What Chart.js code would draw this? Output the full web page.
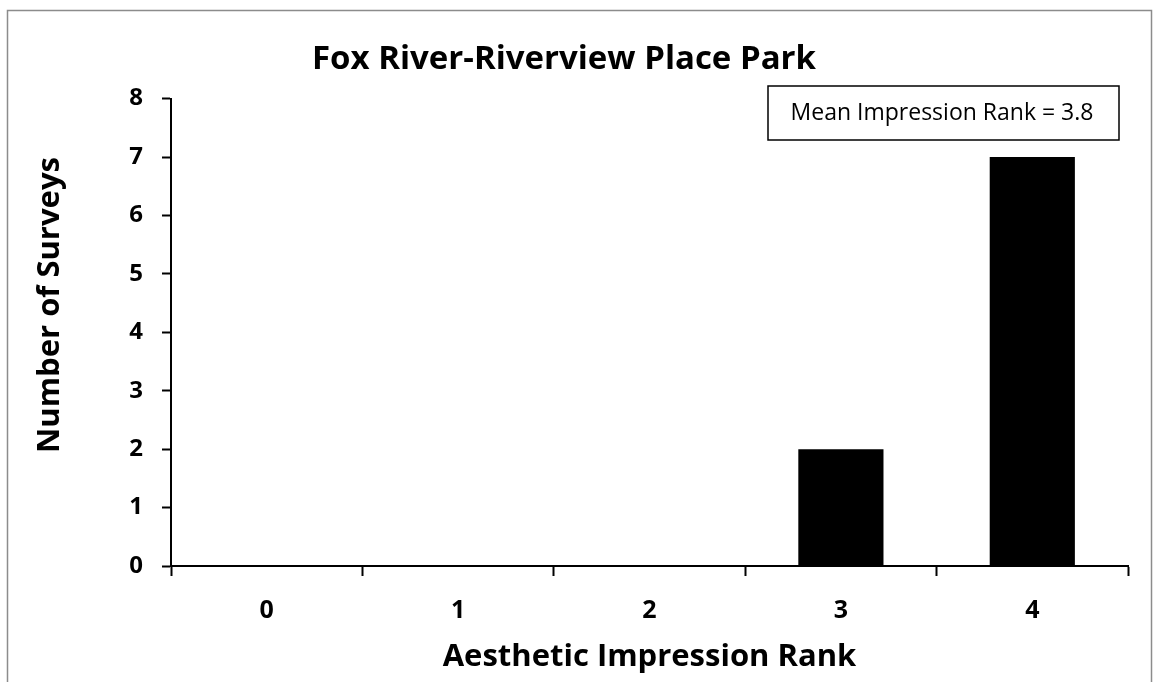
<!DOCTYPE html>
<html>
<head>
<meta charset="utf-8">
<script src="https://cdn.jsdelivr.net/npm/chart.js"></script>
<style>
  html, body { margin: 0; padding: 0; background: #fff; }
  #wrap { width: 1154px; height: 682px; }
</style>
</head>
<body>
<div id="wrap"><canvas id="chart" width="1154" height="682"></canvas></div>
<script>
const ranks = ['0', '1', '2', '3', '4'];
const surveys = [0, 0, 0, 2, 7];
const yMin = 0, yMax = 8;
const meanRank = 3.8;
const titleText = 'Fox River-Riverview Place Park';
const xTitle = 'Aesthetic Impression Rank';
const yTitle = 'Number of Surveys';
const fontFam = "'Open Sans', 'DejaVu Sans', sans-serif";

// page frame, y title (sits a bit above the axis centre) and mean box
const extras = {
  id: 'extras',
  beforeDraw(chart){
    const c = chart.ctx;
    c.save();
    c.fillStyle = '#fff';
    c.fillRect(0, 0, chart.width, chart.height);
    c.strokeStyle = '#8c8c8c';
    c.lineWidth = 1.5;
    c.strokeRect(7.5, 10.5, 1144, 700);
    c.restore();
  },
  afterDraw(chart){
    const c = chart.ctx;
    c.save();
    c.translate(50, 305);
    c.rotate(-Math.PI / 2);
    c.fillStyle = '#000';
    c.font = 'bold 31px ' + fontFam;
    c.textAlign = 'center';
    c.textBaseline = 'middle';
    c.fillText(yTitle, 0, 0);
    c.restore();

    c.save();
    c.strokeStyle = '#000';
    c.lineWidth = 1.5;
    c.strokeRect(768, 86, 351, 54);
    c.fillStyle = '#000';
    c.font = '23px ' + fontFam;
    c.textAlign = 'center';
    c.textBaseline = 'middle';
    c.fillText('Mean Impression Rank = ' + meanRank, 942, 113);
    c.restore();
  }
};

const ctx = document.getElementById('chart');
const config = {
  type: 'bar',
  data: {
    labels: ranks,
    datasets: [{
      data: surveys,
      backgroundColor: '#000',
      borderWidth: 0,
      categoryPercentage: 1,
      barPercentage: 0.445
    }]
  },
  options: {
    responsive: false,
    animation: false,
    layout: { padding: { top: 40, right: 26, bottom: 0, left: 0 } },
    plugins: {
      legend: { display: false },
      tooltip: { enabled: false },
      title: {
        display: true,
        text: titleText,
        color: '#000',
        font: { family: fontFam, size: 33, weight: 'bold', lineHeight: 1.2 },
        padding: { top: 0, bottom: 19 }
      }
    },
    scales: {
      x: {
        grid: { display: true, drawOnChartArea: false, offset: true, tickLength: 10, tickColor: '#000', tickWidth: 2 },
        border: { display: true, color: '#000', width: 2 },
        ticks: { color: '#000', padding: 20, font: { family: fontFam, size: 25, weight: 'bold' } },
        title: { display: true, text: xTitle, color: '#000',
          font: { family: fontFam, size: 31, weight: 'bold', lineHeight: 1.2 }, padding: { top: 0, bottom: 6 } },
        afterFit(scale){ scale.height = 116; }
      },
      y: {
        min: yMin, max: yMax,
        grid: { display: true, drawOnChartArea: false, tickLength: 9, tickColor: '#000', tickWidth: 2 },
        border: { display: true, color: '#000', width: 2 },
        ticks: { stepSize: 1, color: '#000', padding: 19, font: { family: fontFam, size: 24, weight: 'bold' } },
        afterFit(scale){ scale.width = 171; }
      }
    }
  },
  plugins: [extras]
};
const surveyChart = new Chart(ctx, config);
</script>
</body>
</html>
